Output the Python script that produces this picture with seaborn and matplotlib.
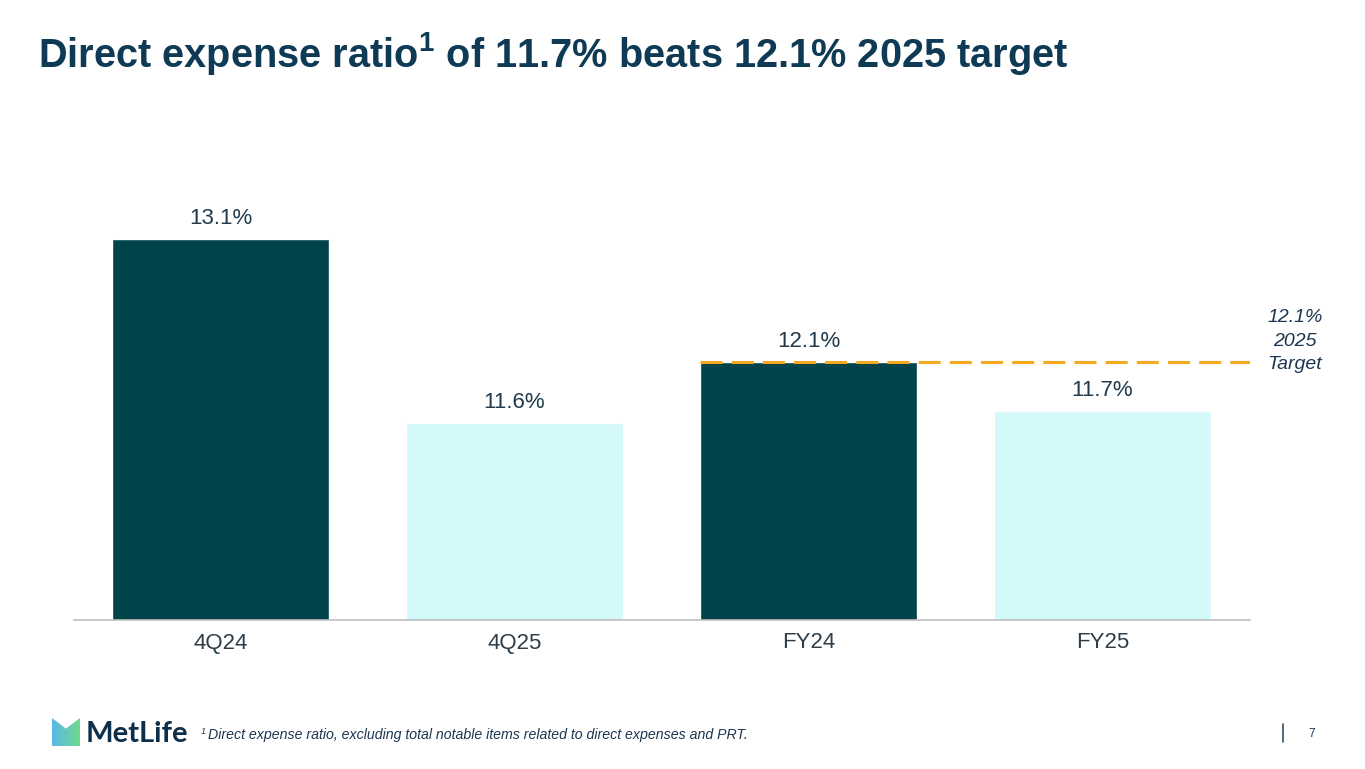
import matplotlib
matplotlib.use("Agg")
import matplotlib.pyplot as plt
import seaborn as sns
import numpy as np
import pandas as pd
from matplotlib.patches import Polygon
from matplotlib.colors import LinearSegmentedColormap

# Data
categories = ["4Q24", "4Q25", "FY24", "FY25"]
ratios = [13.1, 11.6, 12.1, 11.7]
bar_colors = ["#00434A", "#D4F9FB", "#00434A", "#D4F9FB"]
target_value = 12.1
target_label = "12.1%\n2025\nTarget"
title = r"Direct expense ratio$^{1}$ of 11.7% beats 12.1% 2025 target"
footnote = "Direct expense ratio, excluding total notable items related to direct expenses and PRT."
page_no = "7"

sns.set_theme(style="white")
plt.rcParams["font.family"] = ["Liberation Sans", "DejaVu Sans"]
plt.rcParams["mathtext.default"] = "regular"

W, H = 1365, 769
fig = plt.figure(figsize=(W / 100, H / 100), dpi=100)
fig.patch.set_facecolor("white")

def px(x, y):
    return x / W, 1 - y / H

ax = fig.add_axes([73.5 / W, 149 / H, 1176 / W, 467.4 / H])
df = pd.DataFrame({"cat": categories, "val": ratios})
bw = 0.738
sns.barplot(data=df, x="cat", y="val", hue="cat", palette=bar_colors,
            width=bw, legend=False, ax=ax, saturation=1)
ax.set_ylim(10.0, 13.8)
ax.set_xlim(-0.5, 3.5)
ax.set_xlabel("")
ax.set_ylabel("")
ax.set_yticks([])
for s in ["top", "right", "left"]:
    ax.spines[s].set_visible(False)
ax.spines["bottom"].set_color("#BFBFBF")
ax.spines["bottom"].set_linewidth(1.2)
ax.tick_params(axis="x", length=0, pad=9, labelsize=16, labelcolor="#2D3E4A")

for cont in ax.containers:
    ax.bar_label(cont, fmt="%.1f%%", padding=7, fontsize=16, color="#203A4C")

# target line from FY24 bar left edge to the end of the axis
ax.plot([2 - bw / 2, 3.5], [target_value, target_value], color="#F5A91E",
        lw=2.2, dashes=(7.2, 3), solid_capstyle="butt", zorder=5)
fig.text(*px(1295, 341), target_label, ha="center", va="center", fontsize=14,
         style="italic", color="#1C3550", linespacing=1.5)

# title
fig.text(*px(38, 67), title, fontsize=28.6, fontweight="bold", color="#0E3A55",
         va="baseline", ha="left")

# footer
fig.text(*px(201, 734), "1", fontsize=6.5, style="italic", color="#1C3550",
         va="baseline")
fig.text(*px(208, 739), footnote, fontsize=10.2, style="italic", color="#1C3550",
         va="baseline")
fig.text(*px(1312, 737), page_no, fontsize=8.5, color="#1C3550", va="baseline",
         ha="center")
fig.add_artist(plt.Line2D([1283 / W, 1283 / W], [1 - 724 / H, 1 - 742 / H],
                          color="#33505F", lw=1.2))

# logo
fig.text(*px(86, 742), "MetLife", fontsize=21, fontweight="bold",
         color="#0E2F4A", va="baseline", family=["Lato", "DejaVu Sans"])
grad = np.linspace(0, 1, 64).reshape(1, -1)
lax = fig.add_axes([52 / W, 1 - 746 / H, 28 / W, 28 / H])
lax.set_axis_off()
lax.set_xlim(0, 1)
lax.set_ylim(0, 1)
cmap = LinearSegmentedColormap.from_list("ml", ["#5BB8E8", "#6FD98A"])
im = lax.imshow(grad, cmap=cmap, extent=[0, 1, 0, 1], aspect="auto")
poly = Polygon([(0, 0), (0, 1), (0.5, 0.62), (1, 1), (1, 0)], closed=True,
               transform=lax.transData, facecolor="none", edgecolor="none")
lax.add_patch(poly)
im.set_clip_path(poly)

fig.savefig("out.png", dpi=100, facecolor="white")
